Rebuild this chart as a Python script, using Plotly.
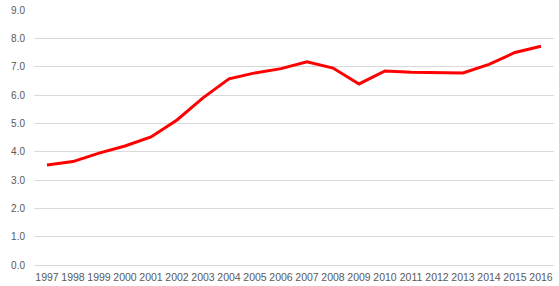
import plotly.graph_objects as go

years = [str(y) for y in range(1997, 2017)]
values = [3.53, 3.65, 3.95, 4.2, 4.52, 5.12, 5.9, 6.57, 6.78, 6.93,
          7.17, 6.95, 6.39, 6.85, 6.8, 6.78, 6.78, 7.08, 7.5, 7.72]
y_ticks = [i for i in range(0, 10)]
y_tick_labels = [f"{v:.1f}" for v in y_ticks]

fig = go.Figure()
fig.add_trace(go.Scatter(x=list(range(len(years))), y=values, mode="lines",
                         line=dict(color="#ff0000", width=3), hoverinfo="skip"))

fig.update_layout(
    width=559, height=286,
    margin=dict(l=34, r=5, t=10, b=21),
    paper_bgcolor="white", plot_bgcolor="white",
    showlegend=False,
    font=dict(family="Liberation Sans", size=10, color="#595959"),
)
fig.update_xaxes(
    range=[-0.5, len(years) - 0.5],
    tickmode="array", tickvals=list(range(len(years))), ticktext=years,
    showgrid=False, zeroline=False, showline=False, ticks="",
    tickfont=dict(size=10.5, color="#595959"), tickangle=0,
    ticklabelstandoff=4, automargin=False,
)
fig.update_yaxes(
    range=[0, 9], tickmode="array", tickvals=y_ticks, ticktext=y_tick_labels,
    showgrid=True, gridcolor="#d9d9d9", gridwidth=1,
    zeroline=True, zerolinecolor="#d9d9d9", zerolinewidth=1,
    showline=False, ticks="", ticklabelstandoff=8, automargin=False,
    tickfont=dict(size=10, color="#595959"),
)
fig.write_html("out.html")
